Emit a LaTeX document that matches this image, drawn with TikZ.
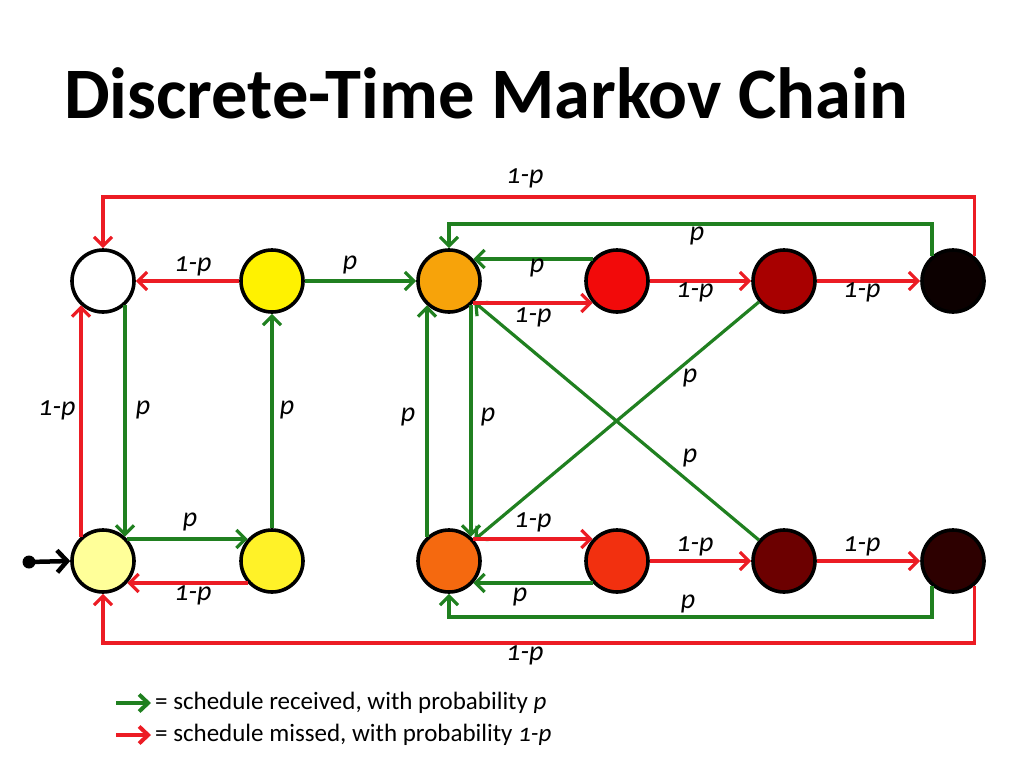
\documentclass[tikz,border=0pt]{standalone}
\usepackage{fontspec}
\setmainfont{Carlito}[ItalicFeatures={Numbers=OldStyle}]
\usetikzlibrary{arrows.meta}
\definecolor{rd}{RGB}{236,28,36}
\definecolor{gn}{RGB}{32,128,32}
\definecolor{cA}{RGB}{255,255,255}
\definecolor{cB}{RGB}{255,242,0}
\definecolor{cC}{RGB}{247,163,10}
\definecolor{cD}{RGB}{242,10,10}
\definecolor{cE}{RGB}{168,0,0}
\definecolor{cF}{RGB}{12,0,0}
\definecolor{cG}{RGB}{255,255,153}
\definecolor{cH}{RGB}{255,242,40}
\definecolor{cI}{RGB}{245,105,15}
\definecolor{cJ}{RGB}{242,48,15}
\definecolor{cK}{RGB}{108,0,0}
\definecolor{cL}{RGB}{45,0,0}
\tikzset{
  st/.style={circle,draw=black,line width=3.6pt,minimum size=62pt,inner sep=0pt,fill=#1},
  tipb/.tip={Straight Barb[length=9pt,width=18pt]},
  garr/.style={draw=gn,line width=3.2pt,-tipb},
  rarr/.style={draw=rd,line width=3.2pt,-tipb},
  lab/.style={font=\itshape\fontsize{28}{30}\selectfont,inner sep=0pt},
}
\begin{document}
\begin{tikzpicture}[x=1pt,y=-1pt]
\useasboundingbox (0,0) rectangle (1024,768);
\node[anchor=base west,inner sep=0pt,font=\bfseries\fontsize{72.5}{80}\selectfont] (title) at (64,118) {Discrete-Time Markov Chain};
% states
\node[st=cA] (a) at (103,281) {};
\node[st=cB] (b) at (272,281) {};
\node[st=cC] (c) at (449,281) {};
\node[st=cD] (d) at (617,281) {};
\node[st=cE] (e) at (784,281) {};
\node[st=cF] (f) at (953,281) {};
\node[st=cG] (g) at (103,561) {};
\node[st=cH] (h) at (272,561) {};
\node[st=cI] (i) at (449,561) {};
\node[st=cJ] (j) at (617,561) {};
\node[st=cK] (k) at (784,561) {};
\node[st=cL] (l) at (953,561) {};
\coordinate (yR1) at (0,197);
\coordinate (yG1) at (0,224);
\coordinate (yG2) at (0,617);
\coordinate (yR2) at (0,643);
% diagonals
\draw[garr] (e) -- (i);
\draw[garr] (k) -- (c);
% top row
\draw[rarr] (b) -- (a);
\draw[garr] (b) -- (c);
\draw[garr] (d.138) -- (c.42);
\draw[rarr] (c.-42) -- (d.-138);
\draw[rarr] (d) -- (e);
\draw[rarr] (e) -- (f);
\draw[rarr] (f.50) |- (a.north |- yR1) -- (a.north);
\draw[garr] (f.130) |- (c.north |- yG1) -- (c.north);
% verticals
\draw[garr] (a.-48) -- (g.48);
\draw[rarr] (g.132) -- (a.228);
\draw[garr] (h) -- (b);
\draw[garr] (i.132) -- (c.228);
\draw[garr] (c.-48) -- (i.48);
% bottom row
\draw[garr] (g.42) -- (h.138);
\draw[rarr] (h.-138) -- (g.-42);
\draw[rarr] (i.42) -- (j.138);
\draw[garr] (j.-138) -- (i.-42);
\draw[rarr] (j) -- (k);
\draw[rarr] (k) -- (l);
\draw[rarr] (l.-50) |- (g.south |- yR2) -- (g.south);
\draw[garr] (l.-130) |- (i.south |- yG2) -- (i.south);
% start
\node[circle,fill=black,minimum size=13pt,inner sep=0pt] (s) at (29,562) {};
\draw[line width=4.5pt,-{Straight Barb[length=10pt,width=22pt]}] (s.center) -- (g.west);
% labels
\node[lab] (l1) at (525,178) {1-p};
\node[lab] (l2) at (697,236) {p};
\node[lab] (l3) at (537,268) {p};
\node[lab] (l4) at (533,317) {1-p};
\node[lab] (l5) at (695,292) {1-p};
\node[lab] (l6) at (862,292) {1-p};
\node[lab] (l7) at (193,266) {1-p};
\node[lab] (l8) at (350,265) {p};
\node[lab] (l9) at (57,410) {1-p};
\node[lab] (l10) at (143,410) {p};
\node[lab] (l11) at (287,410) {p};
\node[lab] (l12) at (408,417) {p};
\node[lab] (l13) at (488,417) {p};
\node[lab] (l14) at (690,378) {p};
\node[lab] (l15) at (690,458) {p};
\node[lab] (l16) at (190,522) {p};
\node[lab] (l17) at (193,595) {1-p};
\node[lab] (l18) at (533,522) {1-p};
\node[lab] (l19) at (520,597) {p};
\node[lab] (l20) at (695,546) {1-p};
\node[lab] (l21) at (862,546) {1-p};
\node[lab] (l22) at (688,604) {p};
\node[lab] (l23) at (525,655) {1-p};
% legend
\coordinate (lg1a) at (116,703);
\coordinate (lg1b) at (151,703);
\coordinate (lg2a) at (116,735);
\coordinate (lg2b) at (151,735);
\draw[garr,line width=4pt,-{Straight Barb[length=9pt,width=17pt]}] (lg1a) -- (lg1b);
\draw[rarr,line width=4pt,-{Straight Barb[length=9pt,width=17pt]}] (lg2a) -- (lg2b);
\node[anchor=west,inner sep=0pt,font=\fontsize{25}{28}\selectfont] (t1) at (155,703) {= schedule received, with probability \textit{p}};
\node[anchor=west,inner sep=0pt,font=\fontsize{25}{28}\selectfont] (t2) at (155,735) {= schedule missed, with probability \textit{1-p}};
\end{tikzpicture}
\end{document}
